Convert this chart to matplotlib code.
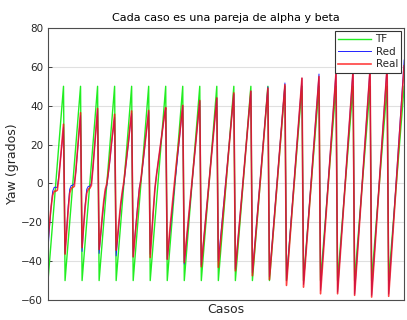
import numpy as np
import matplotlib
matplotlib.use("Agg")
import matplotlib.pyplot as plt

# TF yaw for each alpha inside one beta block (same for every block)
tf_block = [-50, -40, -30, -20, -10, 0, 10, 20, 30, 40, 50]
n_blocks = 21

# "Real" yaw, one row per beta block
real_rows = [
    [-29, -20, -12, -6, -4, -4, -3.5, 3, 12, 21, 30.5],
    [-36.4, -25, -14, -5, -2.5, -2, -1.5, 7, 17, 27, 36.4],
    [-33, -22, -12, -5, -3, -2.5, -1, 8, 18, 28, 38.6],
    [-34, -26, -17, -9, -3, 0, 6, 13, 21, 28, 35.6],
    [-34.4, -26, -18, -10, -4, 1, 8, 15, 22, 30, 37.3],
    [-37.8, -29, -20, -11, -3, 2, 9, 16, 23, 30, 37.6],
    [-38.1, -26, -14, -3, 4, 10, 16, 22, 28, 34, 39],
    [-39, -30, -21, -13, -5, 3, 11, 18, 25, 33, 40.2],
    [-40.7, -32.4, -24, -15.7, -7.3, 1, 9.3, 17.7, 26, 34.4, 42.7],
    [-42.9, -34.2, -25.5, -16.8, -8.1, 0.6, 9.2, 17.9, 26.6, 35.3, 44],
    [-43.2, -34.2, -25.2, -16.3, -7.3, 1.7, 10.7, 19.7, 28.6, 37.6, 46.6],
    [-45, -35.8, -26.5, -17.3, -8, 1.3, 10.5, 19.8, 29, 38.3, 47.5],
    [-47.5, -37.9, -28.2, -18.6, -8.9, 0.8, 10.4, 20.1, 29.7, 39.4, 49],
    [-49.5, -39.5, -29.4, -19.4, -9.4, 0.7, 10.7, 20.7, 30.7, 40.8, 50.8],
    [-52.5, -41.8, -31.2, -20.5, -9.8, 0.9, 11.5, 22.2, 32.9, 43.5, 54.2],
    [-53.4, -42.6, -31.7, -20.9, -10, 0.8, 11.6, 22.5, 33.3, 44.2, 55],
    [-56.8, -45.4, -34, -22.7, -11.3, 0.1, 11.5, 22.9, 34.2, 45.6, 57],
    [-56.8, -45.3, -33.8, -22.4, -10.9, 0.6, 12.1, 23.6, 35, 46.5, 58],
    [-57.6, -45.9, -34.3, -22.6, -11, 0.7, 12.4, 24, 35.7, 47.3, 59],
    [-58.5, -46.7, -34.8, -22.9, -11.1, 0.8, 12.6, 24.5, 36.3, 48.2, 60],
    [-58.1, -46.2, -34.4, -22.5, -10.7, 1.2, 13.1, 24.9, 36.8, 48.6, 60.5],
]

# "Red" (network) yaw, one row per beta block
red_rows = [
    [-34, -22, -12, -4, -2, -2, -2, 4, 12, 20, 29],
    [-36, -24, -12, -3, -1, -1, 0, 6, 16, 26, 35],
    [-35, -22, -11, -3, -1.5, -1.5, 0, 8, 18, 28, 38],
    [-36, -27, -18, -10, -4, -1, 5, 12, 20, 27, 34],
    [-37.3, -28, -19, -11, -5, 0, 7, 14, 21, 29, 36],
    [-37.8, -28, -19, -10, -2, 2, 8, 15, 23, 30, 37],
    [-36.4, -25, -14, -3, 4, 10, 16, 22, 28, 34, 39],
    [-39, -31, -23, -15, -7, 1, 8, 16, 24, 32, 40],
    [-41.5, -33, -24.7, -16.3, -7.9, 0.5, 8.9, 17.3, 25.7, 34.1, 42.5],
    [-42, -33.4, -24.8, -16.2, -7.6, 1, 9.6, 18.2, 26.8, 35.4, 44],
    [-40, -31.4, -22.8, -14.2, -5.6, 3, 11.6, 20.2, 28.8, 37.4, 46],
    [-44, -34.9, -25.7, -16.6, -7.4, 1.8, 10.9, 20.1, 29.2, 38.4, 47.5],
    [-46, -36.4, -26.9, -17.3, -7.7, 1.9, 11.4, 21, 30.6, 40.1, 49.7],
    [-48, -38, -28.1, -18.1, -8.1, 1.9, 11.8, 21.8, 31.8, 41.7, 51.7],
    [-50, -39.6, -29.2, -18.7, -8.3, 2.1, 12.5, 22.9, 33.4, 43.8, 54.2],
    [-52, -41.2, -30.3, -19.5, -8.7, 2.2, 13, 23.8, 34.6, 45.5, 56.3],
    [-55, -43.7, -32.4, -21.1, -9.8, 1.5, 12.8, 24.1, 35.4, 46.7, 58],
    [-56, -44.5, -33, -21.5, -10, 1.5, 13, 24.5, 36, 47.5, 59],
    [-57, -45.3, -33.6, -21.9, -10.2, 1.5, 13.2, 24.9, 36.6, 48.3, 60],
    [-57.6, -45.7, -33.9, -22, -10.2, 1.7, 13.6, 25.4, 37.3, 49.1, 61],
    [-57, -45, -32.9, -20.9, -8.8, 3.3, 15.3, 27.4, 39.4, 51.5, 63.5],
]

tf = np.tile(tf_block, n_blocks)
real = np.concatenate(real_rows)
red = np.concatenate(red_rows)
casos = np.arange(1, len(tf) + 1)

txt = '#262626'
fig = plt.figure(figsize=(4.07, 3.2), dpi=100)
ax = fig.add_axes([0.118, 0.0625, 0.875, 0.85])

ax.plot(casos, tf, color='#22ee22', lw=1.0, label='TF')
ax.plot(casos, red, color='#2222ff', lw=0.7, label='Red')
ax.plot(casos, real, color='#ff1010', lw=1.2, alpha=0.8, label='Real')

ax.set_xlim(1, len(tf))
ax.set_ylim(-60, 80)
ax.set_yticks(np.arange(-60, 81, 20))
ax.set_xticks([])
ax.yaxis.grid(True, color='#e0e0e0', lw=0.8)
ax.set_axisbelow(True)
ax.tick_params(axis='y', direction='in', length=3, labelsize=7.5, colors=txt,
               width=0.6)
for s in ax.spines.values():
    s.set_color('#4d4d4d')
    s.set_linewidth(0.8)

ax.set_title('Cada caso es una pareja de alpha y beta', fontsize=8, color='black', pad=5)
ax.set_xlabel('Casos', fontsize=9, color=txt, labelpad=2)
ax.set_ylabel('Yaw (grados)', fontsize=9, color=txt, labelpad=2)

leg = ax.legend(loc='upper right', fontsize=7.5, frameon=True, fancybox=False,
                borderaxespad=0.3, handlelength=3.2, handletextpad=0.4,
                labelspacing=0.25, borderpad=0.3)
leg.get_frame().set_edgecolor('#333333')
leg.get_frame().set_linewidth(0.8)
leg.get_frame().set_alpha(1)
for t in leg.get_texts():
    t.set_color(txt)

fig.savefig('out.png', dpi=100)
